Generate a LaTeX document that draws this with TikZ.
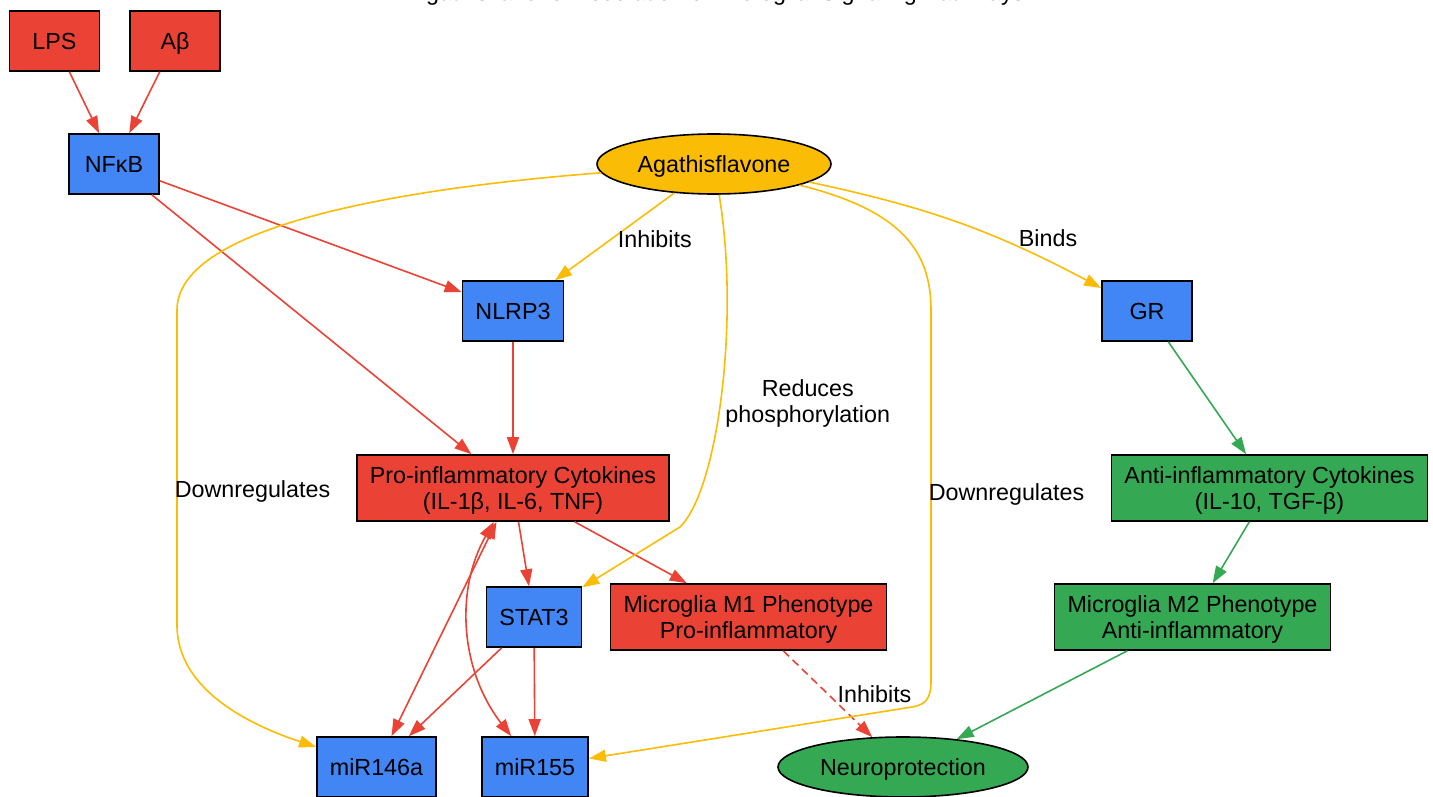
\documentclass[tikz,border=0pt]{standalone}
\usepackage{fontspec}
\setmainfont{Liberation Sans}
\usetikzlibrary{arrows.meta,shapes.geometric}
\definecolor{gred}{HTML}{EA4335}
\definecolor{gblue}{HTML}{4285F4}
\definecolor{gyellow}{HTML}{FBBC05}
\definecolor{ggreen}{HTML}{34A853}

\begin{document}
\begin{tikzpicture}[x=1pt,y=-1pt,line width=1.6pt,font=\fontsize{23.3}{26}\selectfont]
  \tikzstyle{box}=[draw=black,rectangle,minimum width=90pt,minimum height=60pt,inner xsep=13pt,text depth=0pt,align=center]
  \tikzstyle{oval}=[draw=black,ellipse,minimum height=60pt,inner sep=0pt,text depth=0pt]
  \tikzstyle{link}=[-{Triangle[length=17pt,width=12pt]}]
  \tikzstyle{twoway}=[{Triangle[length=17pt,width=12pt]}-{Triangle[length=17pt,width=12pt]}]
  \tikzstyle{lbl}=[inner sep=4pt,text=black,text depth=0pt,align=center]

  \useasboundingbox (0,0) rectangle (1433,797);
  \node[anchor=base] (title) at (717.5,0.5) {Agathisflavone Modulation of Microglial Signaling Pathways};

  \foreach \name/\x/\y/\col/\text in {lps/54.5/41/gred/LPS, ab/175/41/gred/Aβ,
                                       nfkb/114/164/gblue/NFκB, nlrp3/513/311/gblue/NLRP3, gr/1147/311/gblue/GR,
                                       stat3/534/617/gblue/STAT3, mir146/376.5/767/gblue/miR146a, mir155/535/767/gblue/miR155}
    \node[box,fill=\col] (\name) at (\x,\y) {\text};
  \foreach \name/\x/\y/\col/\text in {pro/513/488/gred/{Pro-inflammatory Cytokines\\(IL-1β, IL-6, TNF)},
                                       anti/1269.5/488/ggreen/{Anti-inflammatory Cytokines\\(IL-10, TGF-β)},
                                       m1/748.5/617/gred/{Microglia M1 Phenotype\\Pro-inflammatory},
                                       m2/1192.5/617/ggreen/{Microglia M2 Phenotype\\Anti-inflammatory}}
    \node[box,fill=\col,minimum height=66pt] (\name) at (\x,\y) {\text};
  \node[oval,fill=gyellow,minimum width=234pt] (agath) at (714,164) {Agathisflavone};
  \node[oval,fill=ggreen,minimum width=250pt] (neuro) at (903,767) {Neuroprotection};

  \coordinate (l1) at (177,310);
  \coordinate (l2) at (177,625);
  \coordinate (r1) at (931,310);
  \coordinate (r2) at (931,682);
  \coordinate (r3) at (912,707);
  \coordinate (bendS) at (680,527);

  \foreach \from/\to in {lps/nfkb,ab/nfkb,nfkb/nlrp3,nfkb/pro,nlrp3/pro,pro/stat3,pro/m1,stat3/mir146,stat3/mir155}
    { \draw[link,gred] (\from) -- (\to); }
  \draw[twoway,gred] (pro) -- (mir146);
  \draw[twoway,gred] (pro) .. controls (455,590) and (460,670) .. (mir155);
  \draw[link,gred,dash pattern=on 8pt off 5pt] (m1) -- node[lbl,right=5pt]{Inhibits} (neuro);

  \foreach \from/\to in {gr/anti,anti/m2,m2/neuro}
    { \draw[link,ggreen] (\from) -- (\to); }

  \draw[link,gyellow] (agath) -- node[lbl,pos=0.53,right,xshift=2pt]{Inhibits} (nlrp3);
  \draw[link,gyellow] (agath) to[bend left=8] node[lbl,pos=0.8,above=6pt,xshift=7pt]{Binds} (gr);
  \draw[link,gyellow] (agath) .. controls (740,320) and (718,490) .. (bendS)
    node[lbl,pos=0.52,right]{Reduces\\phosphorylation} -- (stat3);
  \draw[link,gyellow] (agath) .. controls (380,190) and (177,230) .. (l1) -- (l2)
    node[lbl,pos=0.57,anchor=west,inner sep=0pt,xshift=-3pt]{Downregulates} .. controls (177,690) and (250,725) .. (mir146);
  \draw[link,gyellow] (agath) .. controls (900,210) and (931,250) .. (r1) -- (r2)
    node[lbl,pos=0.49,anchor=west,inner sep=0pt,xshift=-3pt]{Downregulates} .. controls (931,700) and (924,705) .. (r3) -- (mir155);
\end{tikzpicture}
\end{document}
